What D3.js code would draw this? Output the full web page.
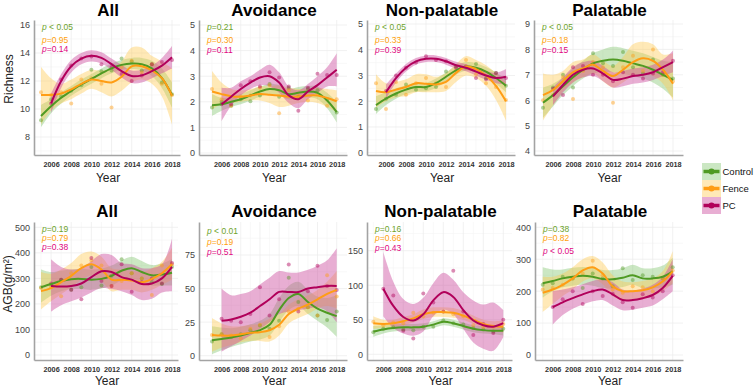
<!DOCTYPE html>
<html>
<head>
<meta charset="utf-8">
<title>Richness and AGB over time</title>
<script src="https://d3js.org/d3.v7.min.js"></script>
<style>
  body { margin: 0; background: #fff; }
  text { font-family: "Liberation Sans", Arial, sans-serif; }
</style>
</head>
<body>
<div id="chart"></div>
<script>
// years of the survey (PC plots start one year later)
var years   = [2005, 2006, 2007, 2008, 2009, 2010, 2011, 2012, 2013, 2014, 2015, 2016, 2017, 2018];
var yearsPC = [2006, 2007, 2008, 2009, 2010, 2011, 2012, 2013, 2014, 2015, 2016, 2017, 2018];
var xTicks  = [2006, 2008, 2010, 2012, 2014, 2016, 2018];
var seriesNames = ["Control", "Fence", "PC"];
var titles = ["All", "Avoidance", "Non-palatable", "Palatable"];

// fitted line, lower / upper band and yearly points
var richAll = {
  Control: { fit: [9.5, 10.2, 10.8, 11.3, 11.75, 12.15, 12.55, 12.9, 13.15, 13.25, 13.2, 12.9, 12.2, 11.0],
             lo:  [8.7, 9.7, 10.4, 10.95, 11.4, 11.8, 12.2, 12.55, 12.8, 12.85, 12.75, 12.35, 11.5, 10.1],
             hi:  [10.3, 10.7, 11.2, 11.65, 12.1, 12.5, 12.9, 13.25, 13.5, 13.65, 13.65, 13.45, 12.9, 11.9],
             pts: [9.2, 10.7, 10.9, 11.3, 11.7, 12.8, 12.7, 12.75, 13.6, 13.4, 12.75, 13.2, 11.9, 11.05] },
  Fence:   { fit: [11.0, 11.0, 11.1, 11.4, 11.8, 12.1, 12.0, 11.9, 12.3, 13.05, 13.05, 12.75, 12.2, 10.95],
             lo:  [8.9, 9.9, 10.4, 10.7, 11.1, 11.45, 11.2, 10.9, 11.3, 11.9, 12.1, 11.8, 10.9, 8.9],
             hi:  [13.0, 12.2, 11.8, 12.1, 12.5, 12.8, 12.75, 12.85, 13.4, 14.4, 14.4, 13.8, 13.4, 12.9],
             pts: [11.2, 11.0, 11.2, 10.4, 12.1, 12.2, 11.8, 10.1, 13.0, 13.45, 12.6, 13.2, 11.8, 11.0] },
  PC:      { fit: [10.4, 12.0, 13.05, 13.6, 13.8, 13.65, 13.2, 12.7, 12.35, 12.4, 12.7, 13.1, 13.7],
             lo:  [9.7, 11.5, 12.6, 13.2, 13.4, 13.25, 12.8, 12.25, 11.85, 11.9, 12.2, 12.55, 12.9],
             hi:  [11.1, 12.5, 13.5, 14.0, 14.2, 14.05, 13.6, 13.15, 12.75, 12.8, 13.1, 13.65, 14.5],
             pts: [10.4, 12.1, 13.1, 13.6, 13.75, 13.2, 13.0, 12.5, 12.0, 12.4, 13.2, 13.35, 13.5] }
};
var richAvoid = {
  Control: { fit: [1.87, 1.9, 2.0, 2.1, 2.25, 2.4, 2.5, 2.45, 2.3, 2.35, 2.4, 2.35, 2.05, 1.6],
             lo:  [1.45, 1.65, 1.8, 1.9, 2.05, 2.2, 2.3, 2.25, 2.1, 2.12, 2.18, 2.1, 1.75, 1.2],
             hi:  [2.3, 2.15, 2.2, 2.3, 2.45, 2.6, 2.7, 2.65, 2.5, 2.58, 2.62, 2.6, 2.35, 2.0],
             pts: [1.78, 2.0, 1.85, 2.1, 2.02, 2.25, 2.7, 2.2, 2.55, 2.2, 2.5, 2.45, 2.1, 1.58] },
  Fence:   { fit: [2.4, 2.3, 2.22, 2.2, 2.25, 2.3, 2.28, 2.25, 2.2, 2.2, 2.25, 2.25, 2.15, 2.02],
             lo:  [1.7, 1.9, 1.95, 2.0, 2.05, 2.05, 1.95, 1.8, 1.85, 1.95, 2.0, 1.95, 1.8, 1.6],
             hi:  [3.2, 2.75, 2.5, 2.45, 2.5, 2.6, 2.6, 2.65, 2.55, 2.5, 2.5, 2.55, 2.5, 2.45],
             pts: [2.5, 2.1, 1.85, 2.2, 2.25, 2.55, 2.65, 1.55, 2.45, 2.25, 2.05, 2.3, 1.85, 2.1] },
  PC:      { fit: [1.9, 2.2, 2.5, 2.75, 2.95, 3.0, 2.75, 2.25, 2.1, 2.4, 2.65, 2.95, 3.25],
             lo:  [1.25, 1.85, 2.25, 2.5, 2.65, 2.6, 2.35, 1.95, 1.75, 2.1, 2.35, 2.6, 2.6],
             hi:  [2.55, 2.55, 2.8, 3.0, 3.25, 3.45, 3.15, 2.6, 2.45, 2.7, 3.0, 3.35, 3.9],
             pts: [1.9, 1.9, 2.65, 2.8, 2.6, 3.15, 2.95, 2.6, 1.65, 2.55, 3.1, 3.05, 3.05] }
};
var richNonPal = {
  Control: { fit: [1.85, 2.1, 2.3, 2.45, 2.55, 2.55, 2.7, 2.95, 3.2, 3.35, 3.3, 3.15, 2.9, 2.6],
             lo:  [1.5, 1.85, 2.1, 2.28, 2.38, 2.38, 2.52, 2.78, 3.03, 3.18, 3.12, 2.97, 2.68, 2.35],
             hi:  [2.2, 2.35, 2.5, 2.62, 2.72, 2.72, 2.88, 3.12, 3.37, 3.52, 3.48, 3.33, 3.12, 2.85],
             pts: [1.7, 2.1, 2.25, 2.65, 2.45, 2.5, 2.55, 3.15, 3.35, 3.3, 3.45, 2.9, 3.1, 2.6] },
  Fence:   { fit: [2.4, 2.35, 2.45, 2.55, 2.7, 2.68, 2.65, 2.75, 3.1, 3.35, 3.25, 3.0, 2.6, 2.0],
             lo:  [1.75, 2.0, 2.15, 2.2, 2.35, 2.35, 2.35, 2.4, 2.75, 3.0, 2.9, 2.6, 2.05, 1.25],
             hi:  [3.05, 2.7, 2.75, 2.85, 3.05, 3.05, 2.95, 3.1, 3.45, 3.75, 3.6, 3.4, 3.1, 2.75],
             pts: [2.7, 1.7, 2.75, 2.25, 2.7, 2.9, 2.7, 2.55, 3.2, 3.6, 3.05, 2.7, 2.55, 2.05] },
  PC:      { fit: [2.35, 2.9, 3.3, 3.55, 3.65, 3.65, 3.55, 3.4, 3.3, 3.15, 3.0, 2.9, 2.95],
             lo:  [2.1, 2.72, 3.15, 3.42, 3.52, 3.52, 3.42, 3.27, 3.16, 3.0, 2.83, 2.7, 2.65],
             hi:  [2.65, 3.08, 3.45, 3.68, 3.78, 3.78, 3.68, 3.53, 3.44, 3.3, 3.17, 3.1, 3.25],
             pts: [2.4, 3.0, 3.3, 3.5, 3.75, 3.6, 3.55, 3.3, 3.35, 2.9, 2.85, 3.1, 2.9] }
};
var richPal = {
  Control: { fit: [5.9, 6.2, 6.55, 6.9, 7.2, 7.45, 7.55, 7.6, 7.55, 7.45, 7.35, 7.2, 7.0, 6.8],
             lo:  [5.3, 5.75, 6.2, 6.55, 6.85, 7.05, 7.1, 7.1, 7.05, 6.95, 6.85, 6.7, 6.45, 6.1],
             hi:  [6.5, 6.65, 6.9, 7.25, 7.55, 7.85, 8.0, 8.1, 8.05, 7.95, 7.85, 7.7, 7.55, 7.5],
             pts: [5.7, 6.5, 7.0, 6.5, 7.2, 7.85, 7.45, 7.35, 7.9, 7.3, 7.05, 7.6, 7.0, 6.85] },
  Fence:   { fit: [6.2, 6.4, 6.75, 7.1, 7.25, 7.4, 7.15, 6.95, 7.2, 7.5, 7.65, 7.55, 7.2, 6.65],
             lo:  [5.2, 5.8, 6.35, 6.7, 6.9, 7.05, 6.75, 6.5, 6.7, 6.95, 7.05, 6.95, 6.65, 6.0],
             hi:  [7.05, 7.0, 7.15, 7.5, 7.6, 7.8, 7.55, 7.35, 7.7, 8.2, 8.3, 8.2, 7.8, 7.85],
             pts: [6.0, 6.2, 6.9, 6.05, 7.15, 7.5, 7.3, 5.9, 7.3, 7.75, 7.15, 8.0, 7.0, 6.75] },
  PC:      { fit: [6.15, 6.6, 7.0, 7.2, 7.25, 7.05, 6.8, 6.85, 6.95, 7.0, 7.1, 7.3, 7.5],
             lo:  [5.8, 6.3, 6.7, 6.9, 6.95, 6.75, 6.5, 6.55, 6.65, 6.7, 6.8, 6.95, 7.1],
             hi:  [6.5, 6.9, 7.3, 7.5, 7.55, 7.35, 7.1, 7.15, 7.25, 7.3, 7.4, 7.6, 7.95],
             pts: [6.45, 6.2, 7.3, 7.35, 7.0, 7.0, 6.75, 7.1, 7.0, 6.85, 7.05, 7.1, 7.55] }
};
var agbAll = {
  Control: { fit: [265, 278, 290, 297, 298, 295, 298, 310, 330, 340, 325, 312, 315, 322],
             lo:  [205, 232, 250, 258, 258, 255, 260, 272, 292, 300, 285, 272, 272, 272],
             hi:  [335, 325, 330, 335, 338, 335, 338, 350, 370, 385, 368, 352, 358, 375],
             pts: [265, 275, 295, 255, 265, 345, 272, 310, 375, 320, 300, 285, 278, 345] },
  Fence:   { fit: [250, 262, 285, 310, 340, 355, 335, 295, 295, 292, 285, 298, 320, 355],
             lo:  [178, 210, 238, 265, 295, 310, 290, 250, 255, 255, 245, 255, 275, 295],
             hi:  [325, 318, 335, 360, 395, 405, 385, 340, 335, 330, 325, 340, 365, 420],
             pts: [262, 265, 230, 320, 350, 370, 350, 270, 290, 320, 300, 235, 350, 355] },
  PC:      { fit: [270, 268, 270, 280, 305, 328, 325, 305, 295, 278, 280, 300, 345],
             lo:  [170, 195, 210, 225, 245, 262, 258, 250, 235, 215, 220, 245, 250],
             hi:  [375, 345, 335, 340, 368, 395, 392, 360, 355, 340, 340, 355, 455],
             pts: [280, 295, 255, 218, 380, 290, 270, 355, 248, 285, 300, 280, 360] }
};
var agbAvoid = {
  Control: { fit: [11.5, 12.5, 13.5, 15, 17, 19, 23, 34, 43, 46, 40, 35, 32, 29.5],
             lo:  [1, 4, 6.5, 8.5, 10.5, 12, 15, 25, 34, 37, 31, 26, 21, 14],
             hi:  [22, 21, 20.5, 21.5, 23.5, 26, 31, 43, 52, 55, 49, 44, 43, 45],
             pts: [10.5, 16, 14, 16, 19, 22.5, 20, 26, 58, 40, 36, 30, 26.5, 33] },
  Fence:   { fit: [15.5, 15, 15, 16, 17, 17.5, 19, 23, 31, 35, 38, 42, 46, 49],
             lo:  [3, 6, 8, 10, 11, 11, 10.5, 15, 24, 28, 31, 35, 37, 35],
             hi:  [28, 24, 22, 22, 23, 24, 27.5, 31, 38, 42, 45, 49, 55, 63],
             pts: [15.5, 16, 15, 13, 20, 23, 14, 22, 33, 35, 36, 30, 60, 44] },
  PC:      { fit: [26, 27, 29, 32, 37, 42, 47.5, 47.5, 47.5, 50, 51, 52, 52],
             lo:  [3, 7, 11, 15, 20, 25, 31, 33, 34, 35, 36, 33, 25],
             hi:  [50, 45, 46, 48, 53, 58, 63, 62, 62, 64, 67, 71, 80],
             pts: [27.5, 26, 25, 31, 51, 30, 42, 68, 33, 48, 67, 52, 49] }
};
var agbNonPal = {
  Control: { fit: [33, 36, 38, 39, 39, 40, 43, 47, 45, 41, 37, 35, 34, 34],
             lo:  [25, 30, 33, 34, 34, 35, 38, 42, 40, 36, 32, 30, 29, 27],
             hi:  [41, 42, 43, 44, 44, 45, 48, 52, 50, 46, 42, 40, 39, 41],
             pts: [32, 37, 39, 36, 35, 40, 40, 49, 45, 43, 38, 36, 33, 37] },
  Fence:   { fit: [45, 44, 45, 48, 52, 58, 61, 61, 60, 56, 50, 44, 41, 40],
             lo:  [37, 38, 40, 42, 46, 51, 54, 54, 53, 50, 44, 38, 34, 31],
             hi:  [55, 50, 50, 54, 58, 65, 68, 68, 67, 63, 56, 50, 48, 49],
             pts: [47, 42, 46, 45, 60, 55, 60, 62, 58, 55, 42, 39, 40, 44] },
  PC:      { fit: [95, 70, 54, 49, 58, 78, 90, 83, 64, 49, 42, 40, 45],
             lo:  [55, 38, 30, 27, 33, 55, 65, 58, 37, 17, 8, 5, 25],
             hi:  [148, 105, 80, 73, 82, 103, 118, 108, 90, 78, 72, 75, 64],
             pts: [95, 85, 34, 23, 88, 75, 62, 121, 62, 28, 44, 31, 50] }
};
var agbPal = {
  Control: { fit: [225, 232, 240, 245, 248, 245, 238, 237, 242, 250, 240, 240, 245, 262],
             lo:  [180, 200, 212, 217, 220, 217, 210, 208, 213, 220, 210, 208, 212, 220],
             hi:  [275, 268, 268, 273, 276, 273, 266, 266, 272, 283, 272, 272, 280, 305],
             pts: [220, 225, 245, 240, 210, 255, 240, 215, 272, 235, 250, 245, 240, 275] },
  Fence:   { fit: [195, 205, 220, 240, 265, 275, 255, 215, 200, 200, 203, 212, 230, 262],
             lo:  [135, 160, 185, 205, 230, 240, 222, 185, 170, 172, 175, 185, 200, 225],
             hi:  [245, 245, 255, 275, 300, 310, 290, 250, 230, 228, 232, 240, 262, 325],
             pts: [205, 210, 220, 240, 255, 295, 250, 205, 195, 215, 212, 200, 240, 265] },
  PC:      { fit: [150, 165, 178, 190, 200, 205, 190, 172, 172, 178, 188, 210, 248],
             lo:  [95, 125, 145, 158, 168, 172, 155, 140, 142, 148, 155, 175, 200],
             hi:  [200, 205, 212, 222, 232, 238, 228, 205, 202, 208, 220, 245, 300],
             pts: [150, 175, 200, 160, 200, 185, 192, 165, 148, 190, 180, 200, 250] }
};

var yTicksList = [
  [8, 10, 12, 14, 16], [0, 1, 2, 3, 4, 5], [0, 1, 2, 3, 4, 5], [4, 5, 6, 7, 8, 9],
  [0, 100, 200, 300, 400, 500], [0, 25, 50, 75], [0, 50, 100, 150], [0, 100, 200, 300, 400]
];
var pLabels = [
  ["p < 0.05", "p=0.95", "p=0.14"], ["p=0.21", "p=0.30", "p=0.11"],
  ["p < 0.05", "p=0.33", "p=0.39"], ["p < 0.05", "p=0.18", "p=0.15"],
  ["p=0.19", "p=0.79", "p=0.38"], ["p < 0.01", "p=0.19", "p=0.51"],
  ["p=0.16", "p=0.66", "p=0.43"], ["p=0.38", "p=0.82", "p < 0.05"]
];
var panelData = [richAll, richAvoid, richNonPal, richPal, agbAll, agbAvoid, agbNonPal, agbPal];

// panel boxes in pixels; yRef/yPx pin two tick values to their pixel rows
var layout = [
  { top: 20,  bottom: 155, left: 34,  right: 180, x0: 41,    x1: 172,   yRef: [8, 16],  yPx: [137, 25],    pY: [29.5, 42.5, 52] },
  { top: 20,  bottom: 155, left: 199, right: 347, x0: 212,   x1: 336.7, yRef: [0, 5],   yPx: [153, 25],    pY: [30, 42.5, 52.5] },
  { top: 20,  bottom: 155, left: 367, right: 515, x0: 376,   x1: 506,   yRef: [0, 5],   yPx: [152.7, 24],  pY: [30, 42.5, 52.5] },
  { top: 20,  bottom: 155, left: 534, right: 683, x0: 543,   x1: 673,   yRef: [4, 9],   yPx: [151, 24],    pY: [30, 42.5, 52.5] },
  { top: 222, bottom: 360, left: 34,  right: 178, x0: 41,    x1: 172,   yRef: [0, 500], yPx: [355, 227.3], pY: [231.5, 241, 250] },
  { top: 222, bottom: 360, left: 199, right: 347, x0: 212,   x1: 336.7, yRef: [0, 75],  yPx: [355.7, 255], pY: [234, 245, 255] },
  { top: 222, bottom: 360, left: 367, right: 512, x0: 373.3, x1: 503.3, yRef: [0, 150], yPx: [354.3, 250.7], pY: [231.5, 241, 250.5] },
  { top: 222, bottom: 360, left: 535, right: 683, x0: 542.7, x1: 672.7, yRef: [0, 400], yPx: [355, 227.3], pY: [231.5, 240.5, 254] }
];

var lineColor = { Control: "#4f9a23", Fence: "#ff9d14", PC: "#b1005a" };
var bandColor = { Control: "#7cc36a", Fence: "#ffc94a", PC: "#cc4c9e" };
var bandAlpha = { Control: 0.4, Fence: 0.4, PC: 0.45 };
var pColor    = { Control: "#6da32a", Fence: "#ff9f0a", PC: "#e0077f" };

var svg = d3.select("#chart")
  .append("svg")
  .attr("width", 754)
  .attr("height", 386);

panelData.forEach(function(D, i) {
  var L = layout[i];
  var yBase = d3.scaleLinear().domain(L.yRef).range(L.yPx);
  var y = d3.scaleLinear().domain([yBase.invert(L.bottom), yBase.invert(L.top)]).range([L.bottom, L.top]);
  var xBase = d3.scaleLinear().domain([2005, 2018]).range([L.x0, L.x1]);
  var x = d3.scaleLinear().domain([xBase.invert(L.left), xBase.invert(L.right)]).range([L.left, L.right]);

  var g = svg.append("g");
  var clipId = "clip" + i;
  g.append("clipPath").attr("id", clipId)
    .append("rect")
    .attr("x", L.left).attr("y", L.top)
    .attr("width", L.right - L.left).attr("height", L.bottom - L.top);

  // grid
  var yt = yTicksList[i];
  var step = yt[1] - yt[0];
  var minorY = yt.map(function(v) { return v + step / 2; }).concat([yt[0] - step / 2])
    .filter(function(v) { return y(v) > L.top && y(v) < L.bottom; });
  g.selectAll(".gy2").data(minorY).enter().append("line")
    .attr("x1", L.left).attr("x2", L.right)
    .attr("y1", function(d) { return y(d); }).attr("y2", function(d) { return y(d); })
    .attr("stroke", "#f4f4f4").attr("stroke-width", 0.6);
  g.selectAll(".gx2").data(years.filter(function(v) { return v % 2 === 1; })).enter().append("line")
    .attr("y1", L.top).attr("y2", L.bottom)
    .attr("x1", function(d) { return x(d); }).attr("x2", function(d) { return x(d); })
    .attr("stroke", "#f4f4f4").attr("stroke-width", 0.6);
  g.selectAll(".gy").data(yt).enter().append("line")
    .attr("x1", L.left).attr("x2", L.right)
    .attr("y1", function(d) { return y(d); }).attr("y2", function(d) { return y(d); })
    .attr("stroke", "#ebebeb").attr("stroke-width", 0.7);
  g.selectAll(".gx").data(xTicks).enter().append("line")
    .attr("y1", L.top).attr("y2", L.bottom)
    .attr("x1", function(d) { return x(d); }).attr("x2", function(d) { return x(d); })
    .attr("stroke", "#ebebeb").attr("stroke-width", 0.7);

  var plot = g.append("g").attr("clip-path", "url(#" + clipId + ")");

  function rows(name) {
    var yrs = name === "PC" ? yearsPC : years;
    var s = D[name];
    return yrs.map(function(yr, k) {
      return { year: yr, fit: s.fit[k], lo: s.lo[k], hi: s.hi[k], pt: s.pts[k] };
    });
  }

  var area = d3.area()
    .x(function(d) { return x(d.year); })
    .y0(function(d) { return y(d.lo); })
    .y1(function(d) { return y(d.hi); })
    .curve(d3.curveCatmullRom.alpha(0.5));
  var line = d3.line()
    .x(function(d) { return x(d.year); })
    .y(function(d) { return y(d.fit); })
    .curve(d3.curveCatmullRom.alpha(0.5));

  seriesNames.forEach(function(name) {
    plot.append("path").datum(rows(name))
      .attr("d", area)
      .attr("fill", bandColor[name])
      .attr("fill-opacity", bandAlpha[name]);
  });
  seriesNames.forEach(function(name) {
    plot.selectAll(".pt-" + name).data(rows(name)).enter().append("circle")
      .attr("cx", function(d) { return x(d.year); })
      .attr("cy", function(d) { return y(d.pt); })
      .attr("r", 2)
      .attr("fill", lineColor[name])
      .attr("fill-opacity", 0.45);
  });
  seriesNames.forEach(function(name) {
    plot.append("path").datum(rows(name))
      .attr("d", line)
      .attr("fill", "none")
      .attr("stroke", lineColor[name])
      .attr("stroke-width", 2);
  });

  // axes
  var ax = g.append("g")
    .attr("transform", "translate(0," + L.bottom + ")")
    .call(d3.axisBottom(x).tickValues(xTicks).tickFormat(d3.format("d")).tickSize(0).tickPadding(7).tickSizeOuter(0));
  ax.selectAll("text").attr("font-size", "7.3px").attr("font-weight", "bold").attr("fill", "#333")
    .attr("font-family", "Liberation Sans, Arial, sans-serif");
  var ay = g.append("g")
    .attr("transform", "translate(" + L.left + ",0)")
    .call(d3.axisLeft(y).tickValues(yt).tickFormat(d3.format("d")).tickSize(0).tickPadding(4).tickSizeOuter(0));
  ay.selectAll("text").attr("font-size", "9px").attr("fill", "#444")
    .attr("font-family", "Liberation Sans, Arial, sans-serif");
  [ax, ay].forEach(function(a) {
    a.select(".domain").attr("stroke", "#a3a3a3").attr("stroke-width", 1.6);
  });

  // title and x label
  var cx = (L.left + L.right) / 2 + 1;
  g.append("text")
    .text(titles[i % 4])
    .attr("x", cx)
    .attr("y", i < 4 ? 15.5 : 216.5)
    .attr("text-anchor", "middle")
    .attr("font-size", "17px")
    .attr("font-weight", "bold")
    .attr("fill", "#000");
  g.append("text")
    .text("Year")
    .attr("x", cx)
    .attr("y", i < 4 ? 182 : 384.5)
    .attr("text-anchor", "middle")
    .attr("font-size", "12px")
    .attr("fill", "#222");

  // p-values
  seriesNames.forEach(function(name, k) {
    var lab = pLabels[i][k];
    var t = g.append("text")
      .attr("x", L.left + 8)
      .attr("y", L.pY[k])
      .attr("font-size", "8.5px")
      .attr("fill", pColor[name]);
    t.append("tspan").attr("font-style", "italic").text("p");
    t.append("tspan").text(lab.slice(1));
  });
});

// y titles
svg.append("text")
  .text("Richness")
  .attr("transform", "translate(12.5,79) rotate(-90)")
  .attr("text-anchor", "middle")
  .attr("font-size", "12px")
  .attr("fill", "#222");
svg.append("text")
  .text("AGB(g/m²)")
  .attr("transform", "translate(11.5,284) rotate(-90)")
  .attr("text-anchor", "middle")
  .attr("font-size", "12px")
  .attr("fill", "#222");

// legend
var legend = svg.append("g");
seriesNames.forEach(function(name, k) {
  var ky = 163 + k * 17;
  legend.append("rect")
    .attr("x", 702).attr("y", ky)
    .attr("width", 19).attr("height", 17)
    .attr("fill", bandColor[name]).attr("fill-opacity", bandAlpha[name]);
  legend.append("line")
    .attr("x1", 703.5).attr("x2", 719.5)
    .attr("y1", ky + 8.5).attr("y2", ky + 8.5)
    .attr("stroke", lineColor[name]).attr("stroke-width", 3.5);
  legend.append("circle")
    .attr("cx", 711.5).attr("cy", ky + 8.5).attr("r", 3)
    .attr("fill", lineColor[name]);
  legend.append("text")
    .text(name)
    .attr("x", 722.5).attr("y", ky + 8.5)
    .attr("dy", "0.35em")
    .attr("font-size", "9.5px")
    .attr("fill", "#111");
});
</script>
</body>
</html>
